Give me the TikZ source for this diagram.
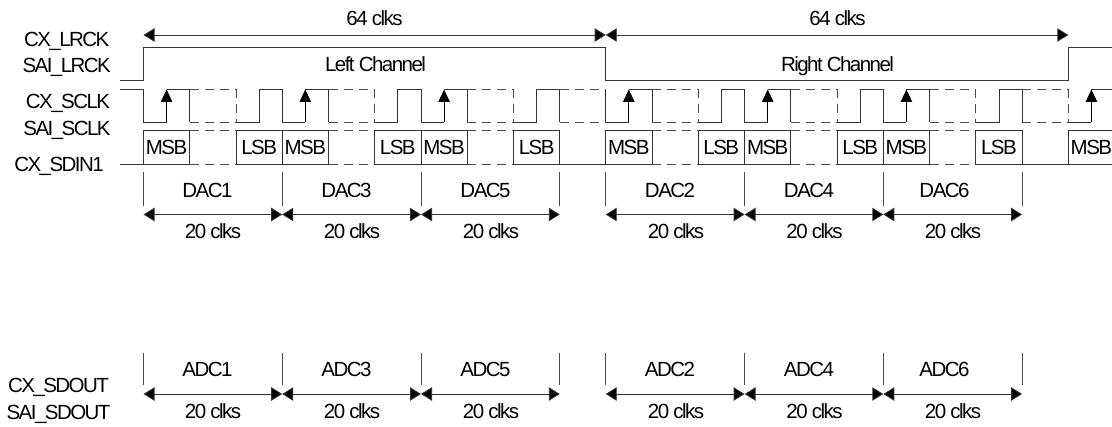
\documentclass[tikz,border=0pt]{standalone}
\usepackage{fontspec}
\setmainfont[LetterSpace=-7.5]{Liberation Sans}
\usetikzlibrary{arrows.meta}
\tikzset{
  x=1pt,y=-1pt,
  wave/.style={line width=0.9pt,draw=black!80,line join=miter},
  dashwave/.style={line width=0.9pt,draw=black!70,dash pattern=on 9pt off 6pt},
  tickline/.style={line width=0.9pt,draw=black!70},
  dim/.style={line width=0.9pt,draw=black!80,{Triangle[length=11pt,width=13.5pt,fill=black]}-{Triangle[length=11pt,width=13.5pt,fill=black]},shorten >=0pt,shorten <=0pt},
  uparrow/.style={line width=0.9pt,draw=black,-{Triangle[length=12.5pt,width=11.5pt,fill=black]}},
  lbl/.style={inner sep=0pt,anchor=base,font=\fontsize{20.5}{23}\selectfont,text=black}
}
\begin{document}
\begin{tikzpicture}
\useasboundingbox (0,0) rectangle (1112,427);
\def\yH{89.5}\def\yL{122.5}\def\yT{130.7}\def\yB{164}
% LRCK
\draw[wave] (120,80.7) -- (143.5,80.7) -- (143.5,47.5) -- (605.7,47.5) -- (605.7,80.7) -- (1068.3,80.7) -- (1068.3,47.5) -- (1112,47.5);
% SCLK lead-in
\draw[wave] (120,\yH) -- (143.5,\yH);
\draw[wave] (120,\yB) -- (143.5,\yB);
% Six slots of clock and data
\foreach \i/\g in {1/143.5,2/282.2,3/421,4/605.7,5/744.6,6/883.3}{
  \pgfmathsetmacro{\a}{\g+23.1}
  \pgfmathsetmacro{\b}{\g+46.3}
  \pgfmathsetmacro{\c}{\g+92.5}
  \pgfmathsetmacro{\d}{\g+115.7}
  \pgfmathsetmacro{\e}{\g+138.8}
  \draw[wave] (\g,\yH) -- (\g,\yL) -- (\a,\yL);
  \draw[uparrow] (\a,\yL) -- (\a,\yH);
  \draw[wave] (\a,\yH) -- (\b,\yH) -- (\b,\yL);
  \draw[dashwave] (\b,\yH) -- (\c,\yH);
  \draw[dashwave] (\b,\yL) -- (\c,\yL);
  \draw[dashwave] (\c,\yH) -- (\c,\yL);
  \draw[wave] (\c,\yL) -- (\d,\yL) -- (\d,\yH) -- (\e,\yH);
  \draw[wave] (\g,\yT) rectangle (\b,\yB);
  \draw[dashwave] (\b,\yT) -- (\c,\yT);
  \draw[dashwave] (\b,\yB) -- (\c,\yB);
  \draw[wave] (\c,\yT) rectangle (\e,\yB);
  \node[lbl] (msb\i) at (\a,154.3) {MSB};
  \pgfmathsetmacro{\m}{\c+23.1}
  \node[lbl] (lsb\i) at (\m,154.3) {LSB};
}
% Slot-end clock falls
\draw[wave] (559.8,\yL) -- (559.8,\yH);
\draw[dashwave] (559.8,\yH) -- (605.7,\yH);
\draw[dashwave] (559.8,\yL) -- (605.7,\yL);
\draw[wave] (1022.1,\yL) -- (1022.1,\yH);
\draw[dashwave] (1022.1,\yH) -- (1068.3,\yH);
\draw[dashwave] (1022.1,\yL) -- (1068.3,\yL);
\draw[dashwave] (1068.3,\yH) -- (1068.3,\yL);
\draw[wave] (1068.3,\yL) -- (1091.4,\yL);
\draw[uparrow] (1091.4,\yL) -- (1091.4,\yH);
\draw[wave] (1091.4,\yH) -- (1112,\yH);
% Data idle and last MSB
\draw[wave] (559.8,\yB) -- (605.7,\yB);
\draw[wave] (1022.1,\yB) -- (1068.3,\yB);
\draw[wave] (1112,\yT) -- (1068.3,\yT) -- (1068.3,\yB) -- (1112,\yB);
\node[lbl] (msblast) at (1091.4,154.3) {MSB};
% 64 clks
\coordinate (t0) at (143.5,35);
\coordinate (t1) at (605.7,35);
\coordinate (t2) at (1068.3,35);
\draw[dim] (t0) -- (t1);
\draw[dim] (t1) -- (t2);
\node[lbl] (c1) at (374.5,26) {64 clks};
\node[lbl] (c2) at (837.5,26) {64 clks};
\node[lbl] (left) at (375.5,71.7) {Left Channel};
\node[lbl] (right) at (837.5,71.7) {Right Channel};
% DAC and ADC dimensions
\foreach \i/\x/\nx/\dd/\aa/\tx/\cx in {1/143.5/282.2/DAC1/ADC1/207.5/213,2/282.2/421/DAC3/ADC3/346.5/352,3/421/559.8/DAC5/ADC5/485.5/491,4/605.7/744.6/DAC2/ADC2/670/676,5/744.6/883.3/DAC4/ADC4/809/814.5,6/883.3/1022.1/DAC6/ADC6/944.5/953}{
  \coordinate (da\i) at (\x,214.5);
  \coordinate (db\i) at (\nx,214.5);
  \coordinate (aa\i) at (\x,394);
  \coordinate (ab\i) at (\nx,394);
  \draw[dim] (da\i) -- (db\i);
  \draw[dim] (aa\i) -- (ab\i);
  \draw[tickline] (\x,172) -- (\x,205.7);
  \draw[tickline] (\nx,172) -- (\nx,205.7);
  \draw[tickline] (\x,352.7) -- (\x,385);
  \draw[tickline] (\nx,352.7) -- (\nx,385);
  \node[lbl] (dl\i) at (\tx,197.3) {\dd};
  \node[lbl] (dc\i) at (\cx,238.3) {20 clks};
  \node[lbl] (al\i) at (\tx,376.7) {\aa};
  \node[lbl] (ac\i) at (\cx,419) {20 clks};
}
% Signal labels
\node[lbl] (n1) at (66.7,46.7) {CX\_LRCK};
\node[lbl] (n2) at (66.7,73) {SAI\_LRCK};
\node[lbl] (n3) at (68,109) {CX\_SCLK};
\node[lbl] (n4) at (67,136) {SAI\_SCLK};
\node[lbl] (n5) at (59,172) {CX\_SDIN1};
\node[lbl] (n6) at (58.5,392.7) {CX\_SDOUT};
\node[lbl] (n7) at (58.5,420) {SAI\_SDOUT};
\end{tikzpicture}
\end{document}
